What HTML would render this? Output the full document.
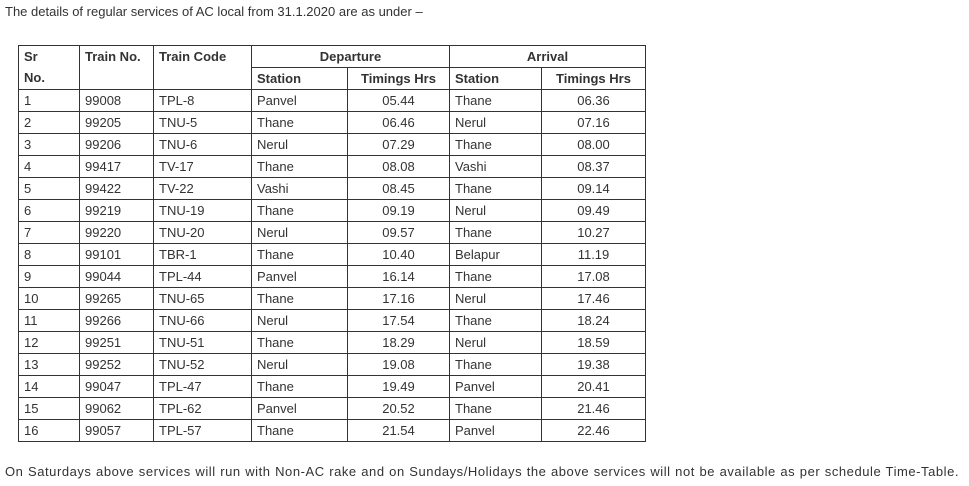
<!DOCTYPE html>
<html><head><meta charset="utf-8"><style>
body{margin:0;width:969px;height:486px;background:#fff;font-family:"Liberation Sans",Arial,sans-serif;font-size:13px;color:#333;position:relative;overflow:hidden}
.t{position:absolute;left:5px;top:4px;white-space:nowrap}
.b{position:absolute;left:5px;top:464px;white-space:nowrap;font-size:13px;letter-spacing:0.55px;word-spacing:0.4px}
table{position:absolute;left:18px;top:45px;border-collapse:collapse;table-layout:fixed}
td,th{border:1px solid #333;height:21px;padding:0 0 0 5px;line-height:21px;font-size:13px;white-space:nowrap;text-align:left}
th{font-weight:bold;color:#333}
.c{text-align:center;padding:0}
.v{vertical-align:top;line-height:21px}
</style></head><body>
<div class="t">The details of regular services of AC local from 31.1.2020 are as under –</div>
<table>
<colgroup><col style="width:61px"><col style="width:74px"><col style="width:98px"><col style="width:96px"><col style="width:102px"><col style="width:92px"><col style="width:104px"></colgroup>
<tr><th rowspan="2" class="v">Sr<br>No.</th><th rowspan="2" class="v">Train No.</th><th rowspan="2" class="v">Train Code</th><th colspan="2" class="c">Departure</th><th colspan="2" class="c">Arrival</th></tr>
<tr><th>Station</th><th class="c">Timings Hrs</th><th>Station</th><th class="c">Timings Hrs</th></tr>
<tr><td>1</td><td>99008</td><td>TPL-8</td><td>Panvel</td><td class="c">05.44</td><td>Thane</td><td class="c">06.36</td></tr>
<tr><td>2</td><td>99205</td><td>TNU-5</td><td>Thane</td><td class="c">06.46</td><td>Nerul</td><td class="c">07.16</td></tr>
<tr><td>3</td><td>99206</td><td>TNU-6</td><td>Nerul</td><td class="c">07.29</td><td>Thane</td><td class="c">08.00</td></tr>
<tr><td>4</td><td>99417</td><td>TV-17</td><td>Thane</td><td class="c">08.08</td><td>Vashi</td><td class="c">08.37</td></tr>
<tr><td>5</td><td>99422</td><td>TV-22</td><td>Vashi</td><td class="c">08.45</td><td>Thane</td><td class="c">09.14</td></tr>
<tr><td>6</td><td>99219</td><td>TNU-19</td><td>Thane</td><td class="c">09.19</td><td>Nerul</td><td class="c">09.49</td></tr>
<tr><td>7</td><td>99220</td><td>TNU-20</td><td>Nerul</td><td class="c">09.57</td><td>Thane</td><td class="c">10.27</td></tr>
<tr><td>8</td><td>99101</td><td>TBR-1</td><td>Thane</td><td class="c">10.40</td><td>Belapur</td><td class="c">11.19</td></tr>
<tr><td>9</td><td>99044</td><td>TPL-44</td><td>Panvel</td><td class="c">16.14</td><td>Thane</td><td class="c">17.08</td></tr>
<tr><td>10</td><td>99265</td><td>TNU-65</td><td>Thane</td><td class="c">17.16</td><td>Nerul</td><td class="c">17.46</td></tr>
<tr><td>11</td><td>99266</td><td>TNU-66</td><td>Nerul</td><td class="c">17.54</td><td>Thane</td><td class="c">18.24</td></tr>
<tr><td>12</td><td>99251</td><td>TNU-51</td><td>Thane</td><td class="c">18.29</td><td>Nerul</td><td class="c">18.59</td></tr>
<tr><td>13</td><td>99252</td><td>TNU-52</td><td>Nerul</td><td class="c">19.08</td><td>Thane</td><td class="c">19.38</td></tr>
<tr><td>14</td><td>99047</td><td>TPL-47</td><td>Thane</td><td class="c">19.49</td><td>Panvel</td><td class="c">20.41</td></tr>
<tr><td>15</td><td>99062</td><td>TPL-62</td><td>Panvel</td><td class="c">20.52</td><td>Thane</td><td class="c">21.46</td></tr>
<tr><td>16</td><td>99057</td><td>TPL-57</td><td>Thane</td><td class="c">21.54</td><td>Panvel</td><td class="c">22.46</td></tr>
</table>
<div class="b">On Saturdays above services will run with Non-AC rake and on Sundays/Holidays the above services will not be available as per schedule Time-Table.</div>
</body></html>
